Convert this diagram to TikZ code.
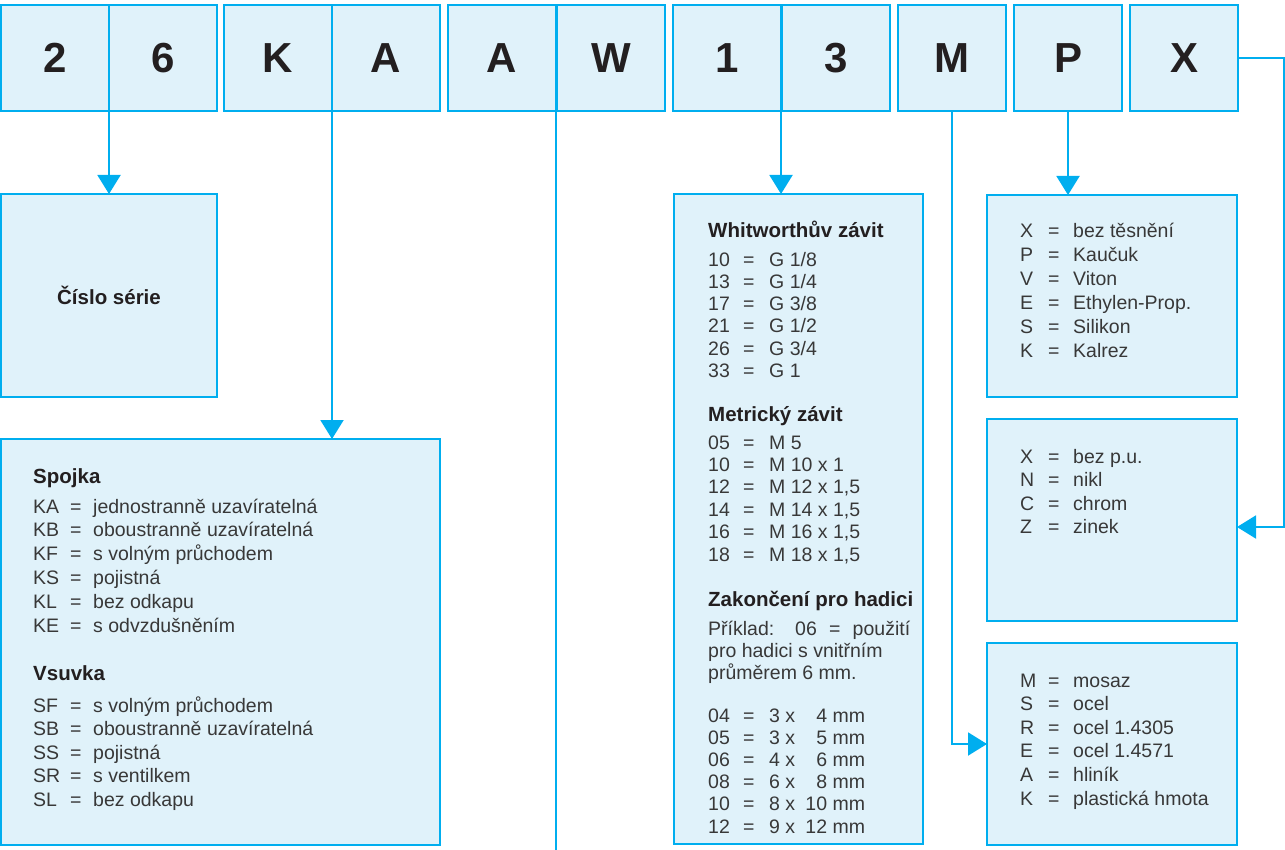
\documentclass[tikz,border=0pt]{standalone}
\usepackage{fontspec}
\setmainfont{Liberation Sans}
\usetikzlibrary{arrows.meta}

\definecolor{cyanline}{HTML}{00AEEF}
\definecolor{boxfill}{HTML}{E0F2FA}
\definecolor{inktext}{HTML}{383838}
\definecolor{inkbig}{HTML}{231F20}

\tikzset{
  cell/.style={draw=cyanline, fill=boxfill, line width=2pt, minimum width=108pt,
    minimum height=106pt, inner sep=0pt, outer sep=0pt,
    font=\fontsize{42}{42}\selectfont\bfseries, text=inkbig},
  infobox/.style={draw=cyanline, fill=boxfill, line width=2pt, inner sep=0pt, outer sep=0pt},
  txt/.style={anchor=base west, inner sep=0pt, font=\fontsize{19.5}{22}\selectfont, text=inktext},
  head/.style={txt, font=\fontsize{20.5}{22}\selectfont\bfseries, text=inkbig},
  conn/.style={draw=cyanline, line width=2pt},
  arr/.style={conn, -{Triangle[width=23pt,length=19pt]}}
}

\begin{document}
\begin{tikzpicture}[x=1pt,y=-1pt]
\useasboundingbox (0,0) rectangle (1285,850);

% code cells
\node[cell] (c1) at (55,58) {2};
\node[cell] (c2) at (163,58) {6};
\node[cell] (c3) at (278,58) {K};
\node[cell] (c4) at (386,58) {A};
\node[cell] (c5) at (502,58) {A};
\node[cell] (c6) at (611,58) {W};
\node[cell] (c7) at (727,58) {1};
\node[cell] (c8) at (836,58) {3};
\node[cell] (c9) at (952,58) {M};
\node[cell] (c10) at (1068,58) {P};
\node[cell] (c11) at (1184,58) {X};

% boxes
\node[infobox, minimum width=216pt, minimum height=203pt,
  font=\fontsize{20.5}{22}\selectfont\bfseries, text=inkbig] (serie) at (109,295.5) {Číslo série};
\node[infobox, minimum width=439pt, minimum height=406pt] (spojka) at (220.5,642) {};
\node[infobox, minimum width=249pt, minimum height=650pt] (whit) at (798.5,519) {};
\node[infobox, minimum width=250pt, minimum height=202pt] (seal) at (1112,296) {};
\node[infobox, minimum width=250pt, minimum height=202pt] (surf) at (1112,520) {};
\node[infobox, minimum width=250pt, minimum height=202pt] (mat) at (1112,744) {};

% Spojka / Vsuvka
\node[head] (hspoj) at (33,483) {Spojka};
\foreach \c/\v [count=\i from 0] in {KA/jednostranně uzavíratelná, KB/oboustranně uzavíratelná,
    KF/s volným průchodem, KS/pojistná, KL/bez odkapu, KE/s odvzdušněním}
  \node[txt] (sp\i) at (33,513+23.8*\i) {\makebox[37pt][l]{\c}\makebox[23pt][l]{=}\v};
\node[head] (hvsuv) at (33,680) {Vsuvka};
\foreach \c/\v [count=\i from 0] in {SF/s volným průchodem, SB/oboustranně uzavíratelná,
    SS/pojistná, SR/s ventilkem, SL/bez odkapu}
  \node[txt] (vs\i) at (33,712+23.5*\i) {\makebox[37pt][l]{\c}\makebox[23pt][l]{=}\v};

% threads
\node[head] (hwhit) at (708,238) {Whitworthův závit};
\foreach \c/\v [count=\i from 0] in {10/{G 1/8}, 13/{G 1/4}, 17/{G 3/8}, 21/{G 1/2},
    26/{G 3/4}, 33/{G 1}}
  \node[txt] (wh\i) at (708,267+22*\i) {\makebox[35pt][l]{\c}\makebox[26pt][l]{=}\v};
\node[head] (hmet) at (708,421) {Metrický závit};
\foreach \c/\v [count=\i from 0] in {05/{M 5}, 10/{M 10 x 1}, 12/{M 12 x 1,5},
    14/{M 14 x 1,5}, 16/{M 16 x 1,5}, 18/{M 18 x 1,5}}
  \node[txt] (me\i) at (708,449+22.4*\i) {\makebox[35pt][l]{\c}\makebox[26pt][l]{=}\v};
\node[head] (hhose) at (708,606) {Zakončení pro hadici};
\node[txt] (ex1) at (708,635) {\makebox[202pt][s]{Příklad: 06 = použití}};
\node[txt] (ex2) at (708,657) {pro hadici s vnitřním};
\node[txt] (ex3) at (708,679) {průměrem 6 mm.};
\foreach \c/\a/\b [count=\i from 0] in {04/3/4, 05/3/5, 06/4/6, 08/6/8, 10/8/10, 12/9/12}
  \node[txt] (ho\i) at (708,722+22.2*\i)
    {\makebox[35pt][l]{\c}\makebox[26pt][l]{=}\makebox[58pt][l]{\a\ x\hfill\b}\ mm};

% seal, surface, material
\foreach \c/\v [count=\i from 0] in {X/bez těsnění, P/Kaučuk, V/Viton, E/Ethylen-Prop.,
    S/Silikon, K/Kalrez}
  \node[txt] (se\i) at (1020,238+23.8*\i) {\makebox[28pt][l]{\c}\makebox[25pt][l]{=}\v};
\foreach \c/\v [count=\i from 0] in {X/bez p.u., N/nikl, C/chrom, Z/zinek}
  \node[txt] (su\i) at (1020,463+23.6*\i) {\makebox[28pt][l]{\c}\makebox[25pt][l]{=}\v};
\foreach \c/\v [count=\i from 0] in {M/mosaz, S/ocel, R/ocel 1.4305, E/ocel 1.4571,
    A/hliník, K/plastická hmota}
  \node[txt] (ma\i) at (1020,687+23.6*\i) {\makebox[28pt][l]{\c}\makebox[25pt][l]{=}\v};

% connectors
\coordinate (awend) at (556,852);
\coordinate (xturn) at (1284,58);
\draw[arr] (c1.south east) -- (c1.south east |- serie.north);
\draw[arr] (c3.south east) -- (c3.south east |- spojka.north);
\draw[conn] (c5.south east) -- (awend);
\draw[arr] (c7.south east) -- (c7.south east |- whit.north);
\draw[arr] (c9.south) |- (mat.west);
\draw[arr] (c10.south) -- (c10.south |- seal.north);
\draw[arr] (c11.east) -- (xturn) |- ([yshift=-7pt]surf.east);
\end{tikzpicture}
\end{document}
